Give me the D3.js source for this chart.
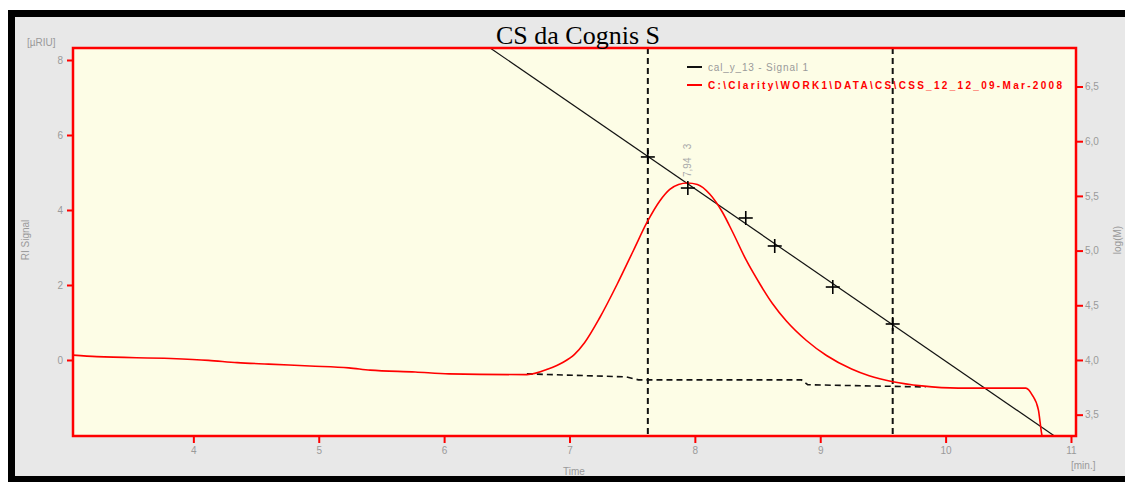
<!DOCTYPE html>
<html>
<head>
<meta charset="utf-8">
<script src="https://cdn.jsdelivr.net/npm/d3@7"></script>
<style>
  body { margin: 0; background: #fff; }
  svg { display: block; }
</style>
</head>
<body>
<script>
// Chromatogram with calibration line.

// red trace: RI signal [µRIU] vs time [min.]
const redTime = [3.04, 3.23, 3.82, 4.12, 4.35, 4.60, 4.93, 5.24, 5.41, 5.77, 6.04, 6.66,
  6.83, 6.95, 7.04, 7.12, 7.24, 7.38, 7.51, 7.62, 7.72, 7.80, 7.87, 7.94, 8.02, 8.12, 8.22,
  8.30, 8.41, 8.52, 8.62, 8.73, 8.89, 9.05, 9.25, 9.39, 9.58, 9.81, 10.10, 10.64,
  10.69, 10.74, 10.77, 10.80];
const redSignal = [0.13, 0.09, 0.04, -0.01, -0.07, -0.11, -0.16, -0.21, -0.27, -0.32, -0.37, -0.39,
  -0.24, -0.06, 0.15, 0.46, 1.12, 2.02, 2.92, 3.68, 4.24, 4.55, 4.68, 4.72, 4.68, 4.42, 3.94,
  3.42, 2.66, 2.02, 1.50, 1.04, 0.52, 0.12, -0.24, -0.42, -0.58, -0.69, -0.75, -0.75,
  -0.93, -1.33, -2.03, -2.2];

// dashed peak baseline
const baseTime = [6.66, 7.45, 7.55, 8.85, 8.90, 9.84];
const baseSignal = [-0.37, -0.45, -0.53, -0.53, -0.66, -0.72];

// calibration line (log M, right axis) and its calibration points
const calTime = [6.30, 10.90];
const calLogM = [6.905, 3.28];
const pointTime = [7.625, 7.944, 8.406, 8.637, 9.10, 9.578];
const pointLogM = [5.856, 5.572, 5.298, 5.042, 4.667, 4.329];

// peak integration limits
const limitTime = [7.625, 9.578];

const xTicks = [4, 5, 6, 7, 8, 9, 10, 11];
const leftTicks = [0, 2, 4, 6, 8];
const rightTicks = [3.5, 4.0, 4.5, 5.0, 5.5, 6.0, 6.5];

const title = "CS da Cognis S";
const legendNames = ["cal_y_13 - Signal 1", "C:\\Clarity\\WORK1\\DATA\\CS\\CSS_12_12_09-Mar-2008"];
const peakLabel = "7,94   3";

const width = 1125, height = 482;
const plot = { left: 73, top: 48, right: 1076, bottom: 436 };
const grey = "#9a9a9a";
const red = "#ff0000";

const x = d3.scaleLinear().domain([3.04, 11.04]).range([plot.left, plot.right]);
const yL = d3.scaleLinear().domain([-2.027, 8.32]).range([plot.bottom, plot.top]);
const yR = d3.scaleLinear().domain([3.305, 6.852]).range([plot.bottom, plot.top]);

const comma = d3.formatLocale({ decimal: ",", thousands: ".", grouping: [3], currency: ["", ""] }).format(".1f");

const svg = d3.select("body").append("svg")
  .attr("width", width)
  .attr("height", height)
  .style("font-family", "Liberation Sans, Arial, sans-serif");

// frame
svg.append("rect").attr("x", 11.5).attr("y", 13.5).attr("width", 1140).attr("height", 466)
  .attr("fill", "#e8e8e8").attr("stroke", "#000").attr("stroke-width", 7);

svg.append("defs").append("clipPath").attr("id", "clip")
  .append("rect")
  .attr("x", plot.left).attr("y", plot.top)
  .attr("width", plot.right - plot.left).attr("height", plot.bottom - plot.top);

svg.append("rect")
  .attr("x", plot.left).attr("y", plot.top)
  .attr("width", plot.right - plot.left).attr("height", plot.bottom - plot.top)
  .attr("fill", "#fdfde6");

// axes
const styleAxis = (g) => {
  g.select(".domain").remove();
  g.selectAll(".tick line").attr("stroke", red).attr("stroke-width", 2);
  g.selectAll(".tick text").attr("fill", grey).style("font-size", "10px");
};

svg.append("g")
  .attr("transform", `translate(0,${plot.bottom})`)
  .call(d3.axisBottom(x).tickValues(xTicks).tickSize(7).tickPadding(4).tickFormat(d3.format("d")))
  .call(styleAxis);

svg.append("g")
  .attr("transform", `translate(${plot.left},0)`)
  .call(d3.axisLeft(yL).tickValues(leftTicks).tickSize(6).tickPadding(4).tickFormat(d3.format("d")))
  .call(styleAxis);

svg.append("g")
  .attr("transform", `translate(${plot.right},0)`)
  .call(d3.axisRight(yR).tickValues(rightTicks).tickSize(7).tickPadding(2).tickFormat(comma))
  .call(styleAxis);

const body = svg.append("g").attr("clip-path", "url(#clip)");

// integration limits
body.selectAll(".limit")
  .data(limitTime)
  .join("line")
  .attr("x1", (d) => x(d)).attr("x2", (d) => x(d))
  .attr("y1", plot.top).attr("y2", plot.bottom)
  .attr("stroke", "#111").attr("stroke-width", 2)
  .attr("stroke-dasharray", "6,4");

// baseline
body.append("path")
  .datum(d3.zip(baseTime, baseSignal))
  .attr("fill", "none").attr("stroke", "#111").attr("stroke-width", 1.6)
  .attr("stroke-dasharray", "6,4")
  .attr("d", d3.line().x((d) => x(d[0])).y((d) => yL(d[1])));

// calibration line
body.append("path")
  .datum(d3.zip(calTime, calLogM))
  .attr("fill", "none").attr("stroke", "#111").attr("stroke-width", 1.2)
  .attr("d", d3.line().x((d) => x(d[0])).y((d) => yR(d[1])));

// red signal
body.append("path")
  .datum(d3.zip(redTime, redSignal))
  .attr("fill", "none").attr("stroke", red).attr("stroke-width", 1.6)
  .attr("d", d3.line().curve(d3.curveMonotoneX).x((d) => x(d[0])).y((d) => yL(d[1])));

// calibration points as crosses
const crosses = body.selectAll(".pt")
  .data(d3.zip(pointTime, pointLogM))
  .join("g")
  .attr("transform", (d) => `translate(${x(d[0])},${yR(d[1])})`);
crosses.append("line").attr("x1", -7).attr("x2", 7).attr("stroke", "#000").attr("stroke-width", 1.6);
crosses.append("line").attr("y1", -7).attr("y2", 7).attr("stroke", "#000").attr("stroke-width", 1.6);

// peak label
svg.append("text")
  .attr("transform", `translate(${x(7.944) + 3},177) rotate(-90)`)
  .attr("fill", "#aaa").style("font-size", "10px")
  .attr("xml:space", "preserve")
  .text(peakLabel);

// plot border
svg.append("rect")
  .attr("x", plot.left).attr("y", plot.top)
  .attr("width", plot.right - plot.left).attr("height", plot.bottom - plot.top)
  .attr("fill", "none").attr("stroke", red).attr("stroke-width", 2.5);

// legend
const legendColors = ["#111", red];
const legend = svg.selectAll(".legend")
  .data(legendNames)
  .join("g")
  .attr("transform", (d, i) => `translate(687,${67 + i * 18})`);
legend.append("line").attr("x2", 15)
  .attr("stroke", (d, i) => legendColors[i]).attr("stroke-width", 2);
legend.append("text")
  .attr("x", 21).attr("dy", "0.35em")
  .attr("fill", (d, i) => (i ? red : grey))
  .style("font-size", "10px")
  .style("font-weight", (d, i) => (i ? "bold" : "normal"))
  .attr("textLength", (d, i) => (i ? 354 : 100))
  .text((d) => d);

// titles and units
svg.append("text")
  .attr("x", 578).attr("y", 44)
  .attr("text-anchor", "middle")
  .style("font-family", "Liberation Serif, Times New Roman, serif")
  .style("font-size", "26px")
  .attr("fill", "#000")
  .text(title);

svg.append("text").attr("x", 27).attr("y", 46)
  .attr("fill", grey).style("font-size", "10px").text("[µRIU]");

svg.append("text")
  .attr("transform", "translate(29,240) rotate(-90)")
  .attr("text-anchor", "middle")
  .attr("fill", grey).style("font-size", "10px").text("RI Signal");

svg.append("text")
  .attr("transform", "translate(1121,240) rotate(-90)")
  .attr("text-anchor", "middle")
  .attr("fill", grey).style("font-size", "10px").text("log(M)");

svg.append("text").attr("x", 574).attr("y", 475)
  .attr("text-anchor", "middle")
  .attr("fill", grey).style("font-size", "10px").text("Time");

svg.append("text").attr("x", 1071).attr("y", 469)
  .attr("fill", grey).style("font-size", "10px").text("[min.]");
</script>
</body>
</html>
